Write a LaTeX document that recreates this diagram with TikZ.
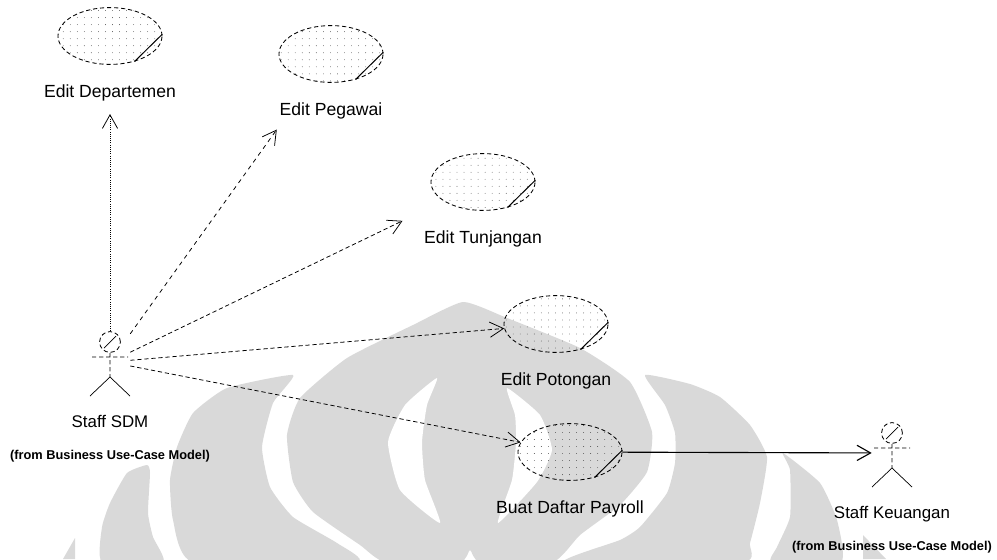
\documentclass[tikz,border=0pt]{standalone}
\usepackage{fontspec}
\setmainfont{Liberation Sans}
\usepackage{xcolor}
\usetikzlibrary{positioning,arrows.meta,shapes.geometric,patterns.meta}
\definecolor{UIGray}{RGB}{217,217,217}
\begin{document}
\begin{tikzpicture}[
x=0.025cm,y=-0.025cm,
node distance=4.8mm,
wmark/.style={fill=UIGray,smooth cycle,tension=0.3},
wgap/.style={fill=white,smooth cycle,tension=0.3},
usecase/.style={ellipse,draw,densely dashed,line width=0.6pt,minimum width=2.6cm,minimum height=1.42cm,inner sep=0pt,
pattern={Dots[distance=5pt,radius=0.3pt]},pattern color=black!70},
uclabel/.style={inner sep=0pt,font=\fontsize{12.5}{15}\selectfont},
actor/.style={rectangle,minimum width=1cm,minimum height=1.55cm,inner sep=0pt},
actorlabel/.style={inner sep=0pt,text height=9pt,text depth=2.6pt,font=\fontsize{12}{15}\selectfont},
fromlabel/.style={inner sep=0pt,font=\fontsize{9.1}{11}\selectfont\bfseries},
arrow/.style={-{Straight Barb[length=3.4mm,width=3.8mm]},line width=0.55pt}
]
\useasboundingbox (0,0) rectangle (997,559);
\fill[wmark] plot coordinates {(463,302) (413,325) (347,358) (300,398) (287,435) (293,482) (313,512) (360,545) (385,562) (460,562) (470,550) (480,562) (553,562) (580,535) (620,505) (647,472) (652,432) (630,382) (580,348) (507,318)};
\fill[wgap] plot coordinates {(437,378) (405,405) (388,442) (400,490) (440,523) (425,480) (422,442) (427,405)};
\fill[wgap] plot coordinates {(507,388) (540,415) (552,450) (537,482) (498,523) (512,480) (516,442) (515,415)};
\fill[wmark] plot coordinates {(645,375) (690,384) (720,397) (750,425) (767,457) (760,503) (750,543) (743,562) (565,562) (620,540) (640,527) (667,493) (675,463) (675,433) (665,405)};
\fill[wmark] plot coordinates {(293,375) (227,388) (193,413) (177,447) (170,480) (173,520) (193,562) (357,562) (337,543) (293,517) (270,487) (262,447) (273,403)};
\fill[wmark] plot coordinates {(783,453) (820,483) (837,520) (841,562) (772,562) (777,547) (790,517) (790,470)};
\fill[wmark] plot coordinates {(147,465) (127,473) (110,503) (102,527) (102,562) (163,562) (153,537) (148,513) (150,473)};
\fill[UIGray] (75,538) -- (75,559) -- (63,559) -- cycle;
\fill[UIGray] (863,535) -- (886,559) -- (863,559) -- cycle;
\node[usecase] (dept) at (110,36) {};
\node[usecase] (peg) at (331,54) {};
\node[usecase] (tunj) at (483,182) {};
\node[usecase] (pot) at (556,324) {};
\node[usecase] (payroll) at (570,452) {};
\node[uclabel,below=of dept] (deptlabel) {Edit Departemen};
\node[uclabel,below=of peg] (peglabel) {Edit Pegawai};
\node[uclabel,below=of tunj] (tunjlabel) {Edit Tunjangan};
\node[uclabel,below=of pot] (potlabel) {Edit Potongan};
\node[uclabel,below=of payroll] (payrolllabel) {Buat Daftar Payroll};
\node[actor] (sdm) at (110,362) {};
\node[actor] (keu) at (892,453) {};
\node[actorlabel,below=5.4mm of sdm] (sdmlabel) {Staff SDM};
\node[actorlabel,below=5.4mm of keu] (keulabel) {Staff Keuangan};
\node[fromlabel,below=4.6mm of sdmlabel] (sdmfrom) {(from Business Use-Case Model)};
\node[fromlabel,below=4.6mm of keulabel] (keufrom) {(from Business Use-Case Model)};
\foreach \uc in {dept,peg,tunj,pot,payroll}
  \draw[line width=0.7pt] (\uc.-46) -- (\uc.2);
\foreach \who in {sdm,keu}{
  \draw[shift={(\who)},densely dashed,line width=0.6pt] (0,-20) circle (0.26cm) (-18,-5) -- (18,-5) (0,-9) -- (0,15);
  \draw[shift={(\who)},line width=0.5pt] (-6,-14) -- (6,-26) (-20,34) -- (0,15) -- (20,34);
}
\draw[arrow,densely dotted] (sdm) -- (dept) [shorten >=1.23cm];
\draw[arrow,dashed] (sdm) -- (peg) [shorten >=1.5cm];
\draw[arrow,densely dashed] (sdm) -- (tunj) [shorten >=1.14cm];
\draw[arrow,densely dashed] (sdm) -- (pot);
\draw[arrow,densely dashed] (sdm) -- (payroll);
\draw[arrow,line width=0.8pt] (payroll) -- (keu);
\end{tikzpicture}
\end{document}
